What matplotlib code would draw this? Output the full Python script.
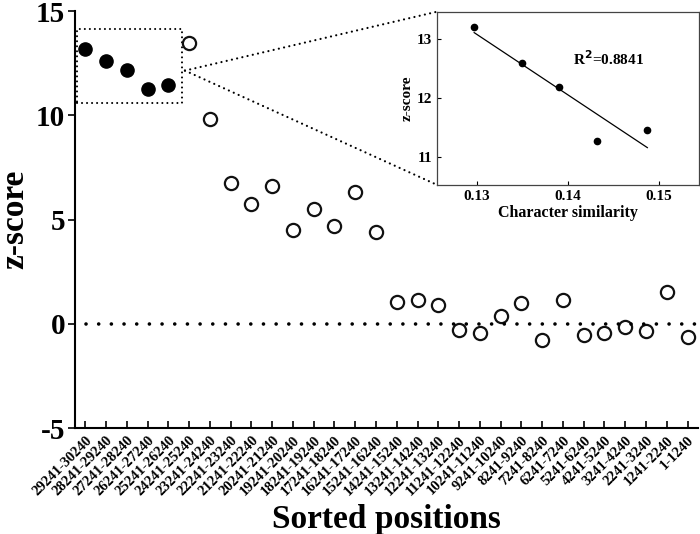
import matplotlib.pyplot as plt
import numpy as np
from matplotlib.patches import Rectangle, ConnectionPatch

plt.rcParams["font.family"] = ["Liberation Serif", "DejaVu Serif"]
plt.rcParams["font.weight"] = "bold"
plt.rcParams["axes.unicode_minus"] = False

positions = ["29241-30240", "28241-29240", "27241-28240", "26241-27240", "25241-26240",
             "24241-25240", "23241-24240", "22241-23240", "21241-22240", "20241-21240",
             "19241-20240", "18241-19240", "17241-18240", "16241-17240", "15241-16240",
             "14241-15240", "13241-14240", "12241-13240", "11241-12240", "10241-11240",
             "9241-10240", "8241-9240", "7241-8240", "6241-7240", "5241-6240",
             "4241-5240", "3241-4240", "2241-3240", "1241-2240", "1-1240"]
zscore = [13.21, 12.6, 12.19, 11.27, 11.45,
          13.49, 9.83, 6.76, 5.76, 6.63,
          4.48, 5.52, 4.67, 6.32, 4.40,
          1.07, 1.15, 0.88, -0.29, -0.46,
          0.38, 0.99, -0.77, 1.12, -0.56,
          -0.46, -0.13, -0.34, 1.55, -0.64]
n_top = 5  # first five are highlighted (filled)

char_sim = [0.1297, 0.1349, 0.1390, 0.1432, 0.1487]
top_z = zscore[:n_top]

x = np.arange(len(positions))
z = np.array(zscore)

fig = plt.figure(figsize=(7, 5.34), dpi=100)
ax = fig.add_axes([0.107, 0.1985, 0.89, 0.7805])
ax.plot(x[:n_top], z[:n_top], "o", color="black", markersize=9.5, linestyle="none")
ax.plot(x[n_top:], z[n_top:], "o", markerfacecolor="white", markeredgecolor="#111111",
        markeredgewidth=1.6, markersize=9.5, linestyle="none")
ax.axhline(0, color="black", linewidth=2.6, linestyle=(0, (0.01, 3.5)),
           dash_capstyle="round", xmin=0.018)

ax.set_xlim(-0.5, len(positions) - 0.5)
ax.set_ylim(-5, 15)
ax.set_yticks([-5, 0, 5, 10, 15])
ax.set_xticks(x)
ax.set_xticklabels(positions, rotation=45, ha="right", rotation_mode="anchor",
                   fontsize=10.5, fontweight="bold")
for lab in ax.get_yticklabels():
    lab.set_fontsize(21)
    lab.set_fontweight("bold")
ax.tick_params(axis="x", direction="in", length=5, width=1.2, pad=4)
ax.tick_params(axis="y", direction="out", length=5, width=1.2, pad=2)
ax.spines["top"].set_visible(False)
ax.spines["right"].set_visible(False)
ax.spines["left"].set_linewidth(1.5)
ax.spines["bottom"].set_linewidth(1.5)
ax.set_ylabel("z-score", fontsize=24, fontweight="bold", labelpad=4)
ax.set_xlabel("Sorted positions", fontsize=24, fontweight="bold", labelpad=4)

# dotted box around top positions
ax.add_patch(Rectangle((-0.38, 10.6), 5.04, 3.55, fill=False, edgecolor="black",
                       linewidth=1.5, linestyle=(0, (0.01, 2.4)), capstyle="round"))

# inset
axi = fig.add_axes([0.624, 0.654, 0.375, 0.324])
axi.plot(char_sim, top_z, "o", color="black", markersize=4.5)
k, b = np.polyfit(char_sim, top_z, 1)
xf = np.array([char_sim[0], char_sim[-1]])
axi.plot(xf, k * xf + b, color="black", linewidth=0.9)
axi.text(0.52, 0.69, "R$^{\\mathbf{2}}$=0.8841", transform=axi.transAxes, fontsize=11,
         fontweight="bold")
axi.set_xlim(0.1256, 0.1544)
axi.set_ylim(10.52, 13.47)
axi.set_xticks([0.13, 0.14, 0.15])
axi.set_yticks([11, 12, 13])
axi.tick_params(direction="in", length=3, labelsize=11)
for lab in axi.get_xticklabels() + axi.get_yticklabels():
    lab.set_fontweight("bold")
axi.set_xlabel("Character similarity", fontsize=11.5, fontweight="bold", labelpad=2)
axi.set_ylabel("z-score", fontsize=11, fontweight="bold", labelpad=2)
for s in axi.spines.values():
    s.set_linewidth(0.9)
    s.set_color("#444444")

for yc in (1, 0):
    con = ConnectionPatch(xyA=(4.8, 12.15), coordsA=ax.transData,
                          xyB=(0, yc), coordsB=axi.transAxes,
                          color="black", linewidth=1.6, linestyle=(0, (0.01, 2.4)),
                          capstyle="round")
    fig.add_artist(con)

fig.savefig("out.png", dpi=100)
plt.close(fig)
